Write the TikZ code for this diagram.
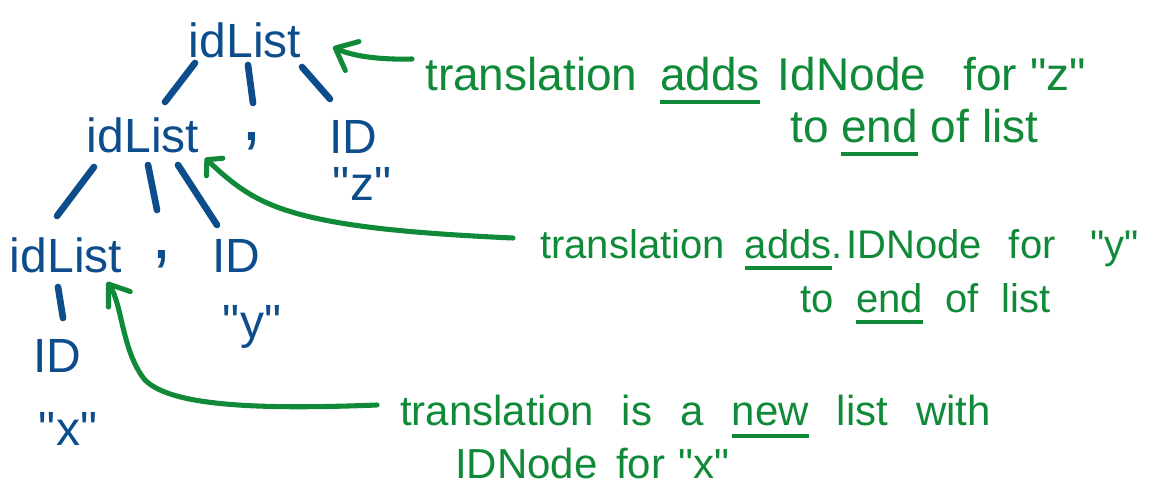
\documentclass[tikz,border=0pt]{standalone}
\usepackage{fontspec}
\setmainfont{Liberation Sans}[Ligatures=TeXOff]
\usetikzlibrary{arrows.meta,calc}
\definecolor{inkblue}{RGB}{14,77,140}
\definecolor{inkgreen}{RGB}{16,138,56}
\newcommand\handul[1]{\setbox0\hbox{#1}\rlap{\rule[-0.3em]{\wd0}{0.09em}}\box0\relax}
\begin{document}
\begin{tikzpicture}[x=0.75pt,y=-0.75pt,
  treetxt/.style={text=inkblue,font=\fontsize{36}{40}\selectfont,inner sep=0pt,anchor=base},
  commatxt/.style={text=inkblue,font=\fontsize{56}{60}\selectfont,inner sep=0pt,anchor=base},
  treeedge/.style={draw=inkblue,line width=5pt,line cap=round},
  notebig/.style={text=inkgreen,font=\fontsize{34.5}{40}\selectfont,inner sep=0pt,anchor=base west},
  notemid/.style={text=inkgreen,font=\fontsize{30}{36}\selectfont,inner sep=0pt,anchor=base west},
  notesmall/.style={text=inkgreen,font=\fontsize{31.5}{36}\selectfont,inner sep=0pt,anchor=base west},
  garrow/.style={draw=inkgreen,line width=3.8pt,line cap=round,line join=round}
]
\useasboundingbox[fill=white] (0,0) rectangle (1163,493);

% tree
\node[treetxt] (r)   at (245,57)  {idList};
\node[treetxt] (l2)  at (143,152) {idList};
\node[commatxt] (c2) at (252,140) {,};
\node[treetxt] (id2) at (353,153) {ID};
\node[treetxt] (qz)  at (362,200) {"z"};
\node[treetxt] (l3)  at (66,272)  {idList};
\node[commatxt] (c3) at (162,258) {,};
\node[treetxt] (id3) at (236,272) {ID};
\node[treetxt] (qy)  at (252,338) {"y"};
\node[treetxt] (id4) at (57,372)  {ID};
\node[treetxt] (qx)  at (68,445)  {"x"};

\draw[treeedge] ($(r.base)+(-50,6)$) -- ($(l2.base)+(22,-50)$);
\draw[treeedge] ($(r.base)+(3,8)$) -- ($(c2.base)+(1,-37)$);
\draw[treeedge] ($(r.base)+(57,10)$) -- ($(id2.base)+(-23,-54)$);
\draw[treeedge] ($(l2.base)+(-49,15)$) -- ($(l3.base)+(-9,-56)$);
\draw[treeedge] ($(l2.base)+(5,13)$) -- ($(c3.base)+(-5,-48)$);
\draw[treeedge] ($(l2.base)+(35,13)$) -- ($(id3.base)+(-19,-47)$);
\draw[treeedge] ($(l3.base)+(-8,15)$) -- ($(id4.base)+(6,-54)$);

% notes
\node[notebig] (t1) at (425,90) {translation\hspace{17pt}\handul{adds}\hspace{13.5pt}IdNode\hspace{28pt}for\hspace{10pt}"z"};
\node[notebig] (t1b) at (790,142) {to \handul{end} of list};
\node[notemid] (t2) at (540,258) {translation\hspace{15pt}\handul{adds}.\hspace{3pt}IDNode\hspace{20pt}for\hspace{26pt}"y"};
\node[notemid] (t2b) at (800,312) {to\hspace{17pt}\handul{end}\hspace{17pt}of\hspace{17pt}list};
\node[notesmall] (t3) at (400,425) {translation\hspace{21pt}is\hspace{21pt}a\hspace{21pt}\handul{new}\hspace{21pt}list\hspace{21pt}with};
\node[notesmall] (t3b) at (455,478) {IDNode\hspace{14pt}for\hspace{10pt}"x"};

% arrows
\draw[garrow,-{Straight Barb[length=14pt,width=24pt,round]}]
  ($(t1.base west)+(-13,-31)$) .. controls (375,60) and (350,55) .. ($(r.base)+(88,-10)$);
\draw[garrow,-{Straight Barb[length=8pt,width=18pt,round]}]
  ($(t2.base west)+(-27,-20)$) .. controls (380,232) and (300,222) .. (255,197)
  .. controls (235,186) and (220,172) .. ($(l2.base)+(62,6)$);
\draw[garrow,-{Straight Barb[length=14pt,width=20pt,round]}]
  ($(t3.base west)+(-23,-20)$) .. controls (250,410) and (170,405) .. (145,380)
  .. controls (122,352) and (122,303) .. ($(l3.base)+(41,10)$);
\end{tikzpicture}
\end{document}
